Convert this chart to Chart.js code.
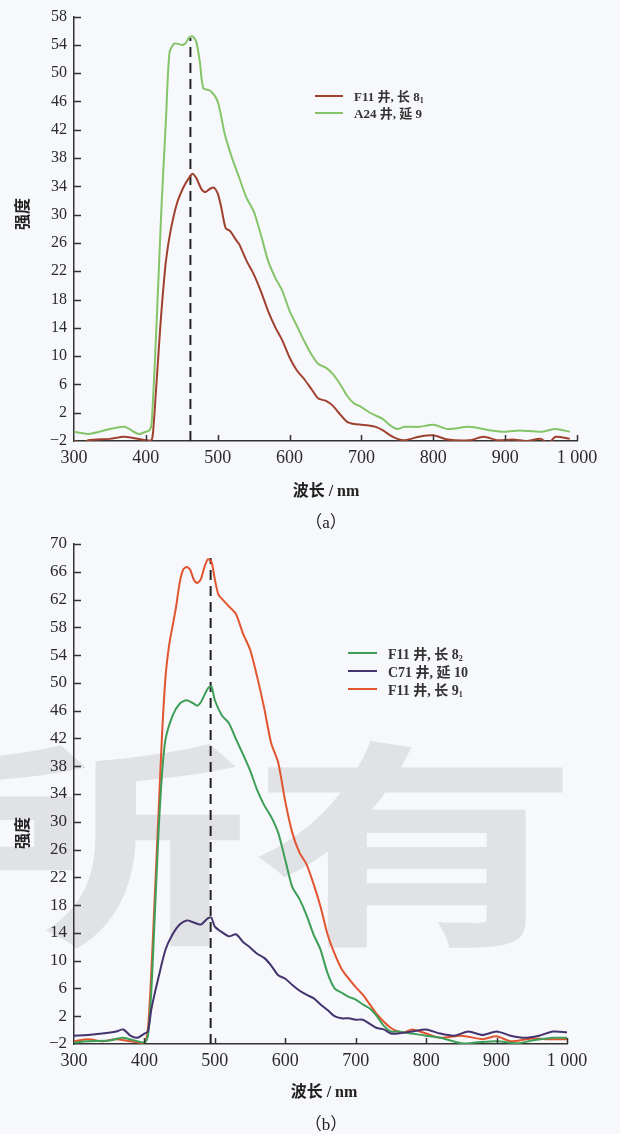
<!DOCTYPE html>
<html><head><meta charset="utf-8">
<script src="https://cdn.jsdelivr.net/npm/chart.js@4.4.1/dist/chart.umd.min.js"></script>
<style>
html,body{margin:0;padding:0;background:#f6f8fb;}
#wrap{position:relative;width:620px;height:1134px;overflow:hidden;}
canvas{position:absolute;left:0;}
.t{position:absolute;font-family:"Liberation Serif","Noto Sans CJK SC",serif;color:#222;white-space:nowrap;transform:translate(-50%,-50%);}
.yt{transform:translate(-50%,-50%) rotate(-90deg);}
.lg{position:absolute;font-family:"Liberation Serif","Noto Sans CJK SC",serif;font-weight:bold;color:#333;white-space:nowrap;}
.lg div{display:flex;align-items:center;}
.lg span.ln{display:inline-block;height:2px;margin-right:11px;}
.lg sub{font-size:8px;vertical-align:-2px;}
#wm{position:absolute;left:-80px;top:722px;font-family:"Noto Sans CJK SC";font-weight:bold;font-size:220px;line-height:1;color:rgba(150,150,150,0.22);transform:scale(1.5,1.0);transform-origin:left top;white-space:nowrap;}
</style></head>
<body><div id="wrap">
<div id="wm">所有</div>
<canvas id="ca" width="620" height="520" style="top:0"></canvas>
<canvas id="cb" width="620" height="614" style="top:520px"></canvas>

<div class="t yt" style="left:21px;top:214px;font-size:16px;font-weight:bold;">强度</div>
<div class="t" style="left:326px;top:489px;font-size:16px;font-weight:bold;">波长 / nm</div>
<div class="t" style="left:326px;top:520px;font-size:17px;">（a）</div>

<div class="lg" id="lga" style="left:315px;top:87px;font-size:13px;"></div>

<div class="t yt" style="left:21px;top:833px;font-size:16px;font-weight:bold;">强度</div>
<div class="t" style="left:324px;top:1090px;font-size:16px;font-weight:bold;">波长 / nm</div>
<div class="t" style="left:326px;top:1122px;font-size:17px;">（b）</div>

<div class="lg" id="lgb" style="left:348px;top:644px;font-size:14px;"></div>
</div>
<script>
// ---------- shared ticks ----------
const xTicks = [300,400,500,600,700,800,900,1000];
const yTicksA = [-2,58];
const yTicksB = [-2,70];

// ---------- Chart (a) ----------
const a_f11_8_1_x = [300,310,320,350,370,400,408,411,414,417,420,423,428,434,443,452,460,465,470,478,483,490,495,500,505,511,517,525,530,540,550,560,570,580,590,600,610,620,630,640,650,660,670,680,690,700,710,720,730,740,750,760,780,800,820,850,870,890,910,930,950,960,970,990];
const a_f11_8_1_y = [-1.9,-2.5,-1.9,-1.7,-1.4,-1.9,-1.9,0.5,5,9.5,14,18,23.5,27.5,31.5,33.8,35.2,35.8,35.2,33.5,33.2,33.7,33.8,33,31,28.1,27.7,26.5,25.8,23.5,21.6,19.2,16.4,14.1,12.2,9.8,8,6.8,5.4,4,3.7,3.0,1.8,0.7,0.4,0.3,0.2,0,-0.5,-1.2,-1.7,-1.9,-1.4,-1.2,-1.8,-1.9,-1.4,-1.9,-1.8,-2,-1.7,-2.4,-1.4,-1.7];

const a_a24_9_x = [300,320,350,370,390,400,405,408,413,417,422,428,433,440,450,455,460,465,470,475,480,490,500,510,520,530,540,550,560,570,580,590,600,610,620,630,640,650,660,670,680,690,700,710,720,730,740,750,760,780,800,820,850,880,900,920,950,970,990];
const a_a24_9_y = [-0.7,-1.0,-0.3,0,-1,-0.7,-0.5,0.5,10.2,19.7,31.6,43.5,53,54.2,54,54.2,55,55.2,54.5,51.7,47.9,47.5,46,41.3,38,35.2,32.4,30.5,27.2,23.5,21.1,19.2,16.4,14.3,12.2,10.3,8.9,8.4,7.5,6.1,4.4,3.3,2.8,2.1,1.6,1.1,0.2,-0.3,0,0,0.3,-0.3,0,-0.5,-0.7,-0.5,-0.7,-0.3,-0.7];

const a_peak = [462, -2, 55];   // dashed marker: wavelength, from, to

// ---------- Chart (b) ----------
const b_f11_8_2_x = [300,320,350,370,400,405,410,415,420,425,430,440,450,460,470,475,480,490,495,500,510,520,530,540,550,560,570,580,590,600,610,620,630,640,650,660,670,680,690,700,710,720,730,740,750,760,780,800,820,850,870,900,930,950,980,1000];
const b_f11_8_2_y = [-1.8,-1.6,-1.5,-1.1,-1.8,-0.8,6,17.2,28.4,36.9,41.9,45.3,47,47.5,47,46.7,47.2,49.2,49.5,47.5,45.3,44.2,41.9,39.7,37.4,34.6,32.4,30.7,28.4,24.5,20.6,18.9,16.6,13.8,11.6,8.2,6,5.4,4.8,4.4,3.7,3.1,2,0.6,-0.2,-0.2,-0.5,-0.8,-1.1,-1.9,-1.8,-1.6,-1.9,-1.5,-1.1,-1.1];

const b_c71_10_x = [300,320,340,360,370,380,390,400,405,410,420,430,440,450,460,470,480,490,495,500,510,520,530,540,550,560,570,580,590,600,610,620,630,640,650,660,670,680,690,700,710,720,730,740,750,760,780,800,820,840,860,880,900,920,940,960,980,1000];
const b_c71_10_y = [-0.8,-0.7,-0.5,-0.2,0.1,-0.8,-1.1,-0.5,-0.2,3.1,7.6,11.6,13.8,15.2,15.8,15.5,15.2,16.1,16.2,14.9,14.1,13.5,13.8,12.7,11.9,11,10.4,9.3,7.9,7.4,6.5,5.7,5.1,4.6,3.7,2.9,2,1.7,1.7,1.5,1.5,0.9,0.3,0.1,-0.5,-0.5,-0.2,0.1,-0.5,-0.8,-0.2,-0.7,-0.2,-0.8,-1.1,-0.8,-0.2,-0.3];

const b_f11_9_1_x = [300,320,340,360,380,400,405,410,415,420,425,430,435,440,445,450,455,460,465,470,475,480,485,490,495,500,505,510,520,530,540,550,560,570,580,590,600,610,620,630,640,650,660,670,680,690,700,710,720,730,740,750,760,770,780,800,820,850,880,900,920,950,970,1000];
const b_f11_9_1_y = [-1.6,-1.3,-1.6,-1.3,-1.6,-1.8,0.3,8.8,20,31.2,42.5,50.9,55.4,58.2,61,64.4,66.3,66.7,66.3,64.9,64.4,64.9,66.6,67.8,67.5,64.9,62.7,62.1,61,59.9,57.1,54.8,50.9,46.4,41.3,38.5,32.9,28.4,25.6,23.9,21.1,17.8,13.8,11,8.8,7.4,6.2,5.1,3.7,2.3,1.2,0.3,-0.2,-0.3,0.1,-0.5,-1.1,-0.8,-1.3,-0.9,-1.6,-1.2,-1.3,-1.3];

const b_peak = [494, -2, 68];

const legendA = [
  {label:'F11 井, 长 8<sub>1</sub>', color:'#a0402f'},
  {label:'A24 井, 延 9', color:'#86c46a'}
];
const legendB = [
  {label:'F11 井, 长 8<sub>2</sub>', color:'#3d9e58'},
  {label:'C71 井, 延 10', color:'#45336e'},
  {label:'F11 井, 长 9<sub>1</sub>', color:'#e0552e'}
];

function pts(xs, ys){ return xs.map((x,i)=>({x:x, y:ys[i]})); }
function peakPts(p){ return [{x:p[0], y:p[1]},{x:p[0], y:p[2]}]; }

const innerTicks = {
  id:'innerTicks',
  afterDraw(chart){
    const ctx = chart.ctx, xs = chart.scales.x, ys = chart.scales.y, ca = chart.chartArea;
    ctx.save();
    ctx.strokeStyle = '#333'; ctx.lineWidth = 1.5;
    ctx.beginPath();
    xs.ticks.forEach(t=>{ if(t.value===xs.min) return; const p = Math.round(xs.getPixelForValue(t.value))+0.5; ctx.moveTo(p, ca.bottom); ctx.lineTo(p, ca.bottom-6); });
    ys.ticks.forEach(t=>{ if(t.value===ys.min) return; const p = Math.round(ys.getPixelForValue(t.value))+0.5; ctx.moveTo(ca.left, p); ctx.lineTo(ca.left+7, p); });
    ctx.stroke();
    ctx.restore();
  }
};

function makeChart(id, datasets, yr, geom){
  return new Chart(document.getElementById(id), {
    type:'line',
    data:{datasets:datasets},
    options:{
      responsive:false, animation:false, events:[],
      layout:{padding:{top:geom.top, right:geom.right, left:0, bottom:0}},
      plugins:{legend:{display:false}, tooltip:{enabled:false}},
      elements:{point:{radius:0}, line:{borderWidth:2, tension:0.25}},
      scales:{
        x:{type:'linear', min:xTicks[0], max:xTicks[xTicks.length-1],
           afterFit:(s)=>{ s.height = geom.xh; },
           afterBuildTicks:(s)=>{ s.ticks = xTicks.map(v=>({value:v})); },
           grid:{display:true, drawOnChartArea:false, drawTicks:false},
           border:{display:true, color:'#333', width:1.5},
           ticks:{autoSkip:false, maxRotation:0, padding:geom.xpad, color:'#2a2a2a',
                  font:{family:'"Liberation Serif", serif', size:geom.xfs},
                  callback:(v)=> v===1000 ? '1 000' : String(v)}},
        y:{type:'linear', min:yr[0], max:yr[1],
           afterFit:(s)=>{ s.width = 74; },
           afterBuildTicks:(s)=>{ const t=[]; for(let v=yr[0]; v<=yr[1]; v+=4) t.push({value:v}); s.ticks=t; },
           grid:{display:true, drawOnChartArea:false, drawTicks:false},
           border:{display:true, color:'#333', width:1.5},
           ticks:{autoSkip:false, padding:7, color:'#2a2a2a',
                  font:{family:'"Liberation Serif", serif', size:geom.yfs},
                  callback:(v)=> v<0 ? '\u2212'+Math.abs(v) : String(v)}}
      }
    },
    plugins:[innerTicks]
  });
}

makeChart('ca', [
  {data:pts(a_a24_9_x, a_a24_9_y), borderColor:legendA[1].color},
  {data:pts(a_f11_8_1_x, a_f11_8_1_y), borderColor:legendA[0].color},
  {data:peakPts(a_peak), borderColor:'#222', borderDash:[10,6], borderWidth:2, tension:0}
], yTicksA, {top:15, right:43, xh:79, xpad:6, xfs:18, yfs:16});

makeChart('cb', [
  {data:pts(b_c71_10_x, b_c71_10_y), borderColor:legendB[1].color},
  {data:pts(b_f11_8_2_x, b_f11_8_2_y), borderColor:legendB[0].color},
  {data:pts(b_f11_9_1_x, b_f11_9_1_y), borderColor:legendB[2].color},
  {data:peakPts(b_peak), borderColor:'#222', borderDash:[10,6], borderWidth:2, tension:0}
], yTicksB, {top:24, right:53, xh:90, xpad:6, xfs:18, yfs:17});

function buildLegend(id, items, w, h){
  const el = document.getElementById(id);
  items.forEach(it=>{
    const d = document.createElement('div');
    d.style.height = h+'px';
    d.innerHTML = '<span class="ln" style="width:'+w+'px;background:'+it.color+'"></span><span>'+it.label+'</span>';
    el.appendChild(d);
  });
}
buildLegend('lga', legendA, 28, 17);
buildLegend('lgb', legendB, 29, 18);
</script>
</body></html>
